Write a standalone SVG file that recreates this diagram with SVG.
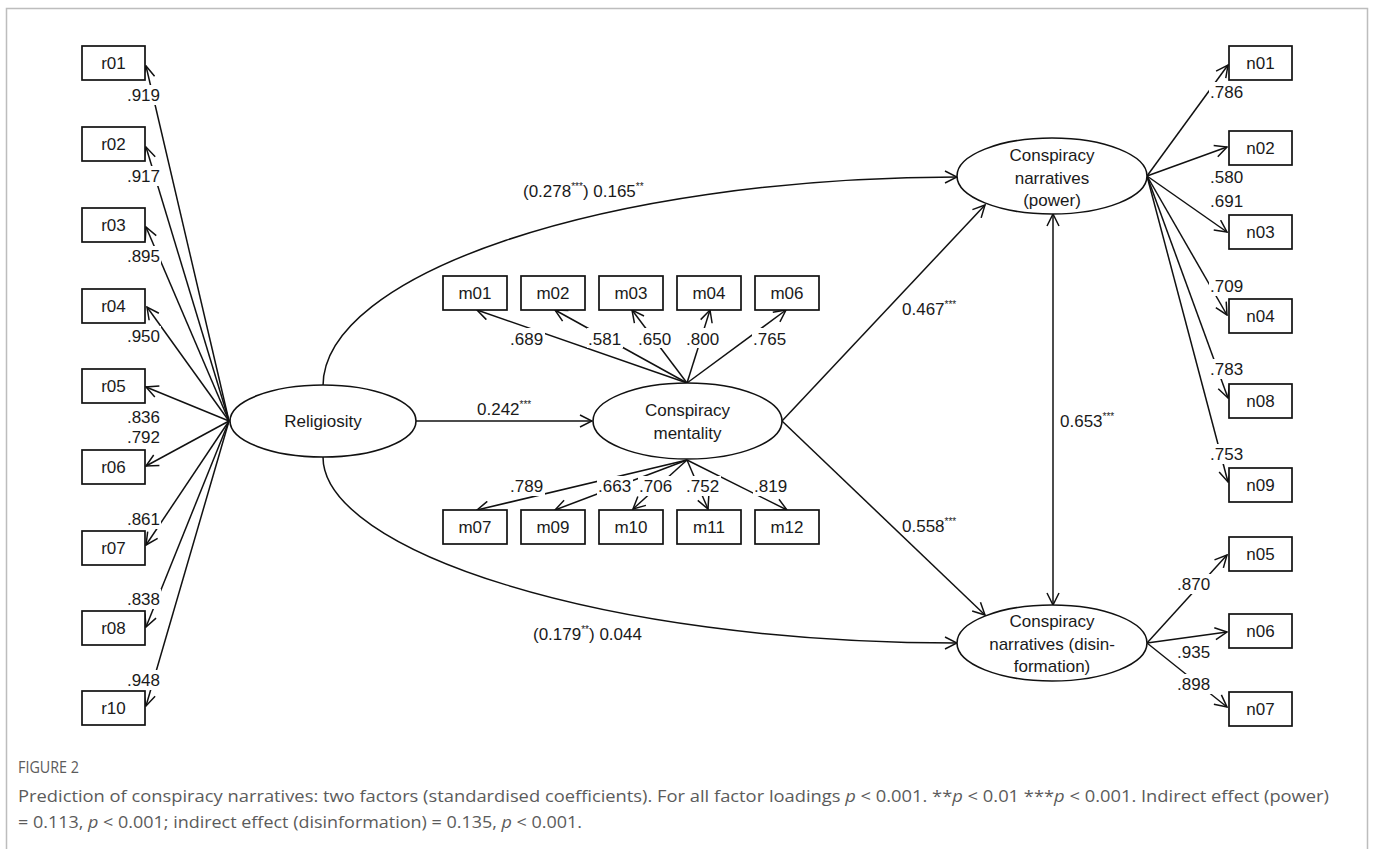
<svg xmlns="http://www.w3.org/2000/svg" width="1375" height="849" viewBox="0 0 1375 849">
<style>
text{font-family:"Liberation Sans",Arial,sans-serif;font-size:17px;fill:#1a1a1a}
.box{fill:#fff;stroke:#111;stroke-width:1.7}
.ell{fill:#fff;stroke:#111;stroke-width:1.6}
.ln{fill:none;stroke:#111;stroke-width:1.5;marker-end:url(#ah)}
.bg{fill:#fff}
.c{text-anchor:middle}
.cap{font-family:"Open Sans","Liberation Sans",sans-serif;fill:#5b5b5b}
</style>
<defs>
<marker id="ah" viewBox="-13 -7 14 14" refX="0" refY="0" markerWidth="14" markerHeight="14" markerUnits="userSpaceOnUse" orient="auto-start-reverse">
<path d="M-12,-6 L0,0 L-12,6" fill="none" stroke="#111" stroke-width="1.5"/>
</marker>
</defs>
<rect x="0" y="0" width="1375" height="849" fill="#fff"/>
<path d="M6.5,849 V8.5 H1367.5 V849" fill="none" stroke="#bdbdbd" stroke-width="1.5"/>

<g id="connectors">
<line class="ln" x1="229" y1="421" x2="146" y2="66"/>
<line class="ln" x1="229" y1="421" x2="146" y2="147"/>
<line class="ln" x1="229" y1="421" x2="146" y2="227"/>
<line class="ln" x1="229" y1="421" x2="147" y2="307"/>
<line class="ln" x1="229" y1="421" x2="146" y2="387"/>
<line class="ln" x1="229" y1="421" x2="146" y2="466"/>
<line class="ln" x1="229" y1="421" x2="146" y2="545"/>
<line class="ln" x1="229" y1="421" x2="146" y2="627"/>
<line class="ln" x1="229" y1="421" x2="146" y2="706"/>

<line class="ln" x1="687" y1="383" x2="477" y2="310"/>
<line class="ln" x1="687" y1="383" x2="555" y2="310"/>
<line class="ln" x1="687" y1="383" x2="632" y2="310"/>
<line class="ln" x1="687" y1="383" x2="710" y2="310"/>
<line class="ln" x1="687" y1="383" x2="786" y2="310"/>
<line class="ln" x1="687" y1="460" x2="477" y2="510"/>
<line class="ln" x1="687" y1="460" x2="555" y2="510"/>
<line class="ln" x1="687" y1="460" x2="633" y2="509"/>
<line class="ln" x1="687" y1="460" x2="708" y2="509"/>
<line class="ln" x1="687" y1="460" x2="787" y2="510"/>

<line class="ln" x1="1147" y1="176" x2="1228" y2="65"/>
<line class="ln" x1="1147" y1="176" x2="1227" y2="147"/>
<line class="ln" x1="1147" y1="176" x2="1227" y2="232"/>
<line class="ln" x1="1147" y1="176" x2="1227" y2="315"/>
<line class="ln" x1="1147" y1="176" x2="1228" y2="398"/>
<line class="ln" x1="1147" y1="176" x2="1228" y2="482"/>
<line class="ln" x1="1147" y1="643" x2="1227" y2="555"/>
<line class="ln" x1="1147" y1="643" x2="1227" y2="632"/>
<line class="ln" x1="1147" y1="643" x2="1227" y2="707"/>

<line class="ln" x1="416" y1="421" x2="592" y2="421"/>
<line class="ln" x1="782" y1="421" x2="985" y2="205"/>
<line class="ln" x1="782" y1="421" x2="985" y2="615"/>
<line class="ln" x1="1053" y1="214" x2="1053" y2="605" style="marker-start:url(#ah)"/>
<path class="ln" d="M323,386 C323,275 600,178 957,177"/>
<path class="ln" d="M323,457 C323,550 600,643 957,643"/>

<!-- loading labels with backgrounds -->
<g id="loadings">
<rect class="bg" x="125" y="85" width="36" height="20"/><text x="160" y="101" text-anchor="end">.919</text>
<rect class="bg" x="125" y="166" width="36" height="20"/><text x="160" y="182" text-anchor="end">.917</text>
<rect class="bg" x="125" y="246" width="36" height="20"/><text x="160" y="262" text-anchor="end">.895</text>
<rect class="bg" x="125" y="326" width="36" height="20"/><text x="160" y="342" text-anchor="end">.950</text>
<rect class="bg" x="125" y="407" width="36" height="20"/><text x="160" y="423" text-anchor="end">.836</text>
<rect class="bg" x="125" y="427" width="36" height="20"/><text x="160" y="443" text-anchor="end">.792</text>
<rect class="bg" x="125" y="509" width="36" height="20"/><text x="160" y="525" text-anchor="end">.861</text>
<rect class="bg" x="125" y="589" width="36" height="20"/><text x="160" y="605" text-anchor="end">.838</text>
<rect class="bg" x="125" y="670" width="36" height="20"/><text x="160" y="686" text-anchor="end">.948</text>

<rect class="bg" x="509" y="328" width="36" height="20"/><text x="510" y="345">.689</text>
<rect class="bg" x="587" y="328" width="36" height="20"/><text x="588" y="345">.581</text>
<rect class="bg" x="637" y="328" width="36" height="20"/><text x="638" y="345">.650</text>
<rect class="bg" x="685" y="328" width="36" height="20"/><text x="686" y="345">.800</text>
<rect class="bg" x="752" y="328" width="36" height="20"/><text x="753" y="345">.765</text>

<rect class="bg" x="509" y="476" width="36" height="20"/><text x="510" y="492">.789</text>
<rect class="bg" x="597" y="476" width="36" height="20"/><text x="598" y="492">.663</text>
<rect class="bg" x="638" y="476" width="36" height="20"/><text x="639" y="492">.706</text>
<rect class="bg" x="685" y="476" width="36" height="20"/><text x="686" y="492">.752</text>
<rect class="bg" x="753" y="476" width="36" height="20"/><text x="754" y="492">.819</text>

<rect class="bg" x="1209" y="82" width="36" height="20"/><text x="1210" y="98">.786</text>
<rect class="bg" x="1209" y="167" width="36" height="20"/><text x="1210" y="183">.580</text>
<rect class="bg" x="1209" y="191" width="36" height="20"/><text x="1210" y="207">.691</text>
<rect class="bg" x="1209" y="276" width="36" height="20"/><text x="1210" y="292">.709</text>
<rect class="bg" x="1209" y="359" width="36" height="20"/><text x="1210" y="375">.783</text>
<rect class="bg" x="1209" y="444" width="36" height="20"/><text x="1210" y="460">.753</text>
<rect class="bg" x="1176" y="574" width="36" height="20"/><text x="1177" y="590">.870</text>
<rect class="bg" x="1176" y="642" width="36" height="20"/><text x="1177" y="658">.935</text>
<rect class="bg" x="1176" y="674" width="36" height="20"/><text x="1177" y="690">.898</text>
</g>

<g id="paths">
<text x="477" y="415">0.242<tspan font-size="10" dy="-7">***</tspan></text>
<text x="902" y="315">0.467<tspan font-size="10" dy="-7">***</tspan></text>
<text x="902" y="532">0.558<tspan font-size="10" dy="-7">***</tspan></text>
<text x="1060" y="427">0.653<tspan font-size="10" dy="-7">***</tspan></text>
<text x="523" y="197">(0.278<tspan font-size="10" dy="-7">***</tspan><tspan dy="7">) 0.165</tspan><tspan font-size="10" dy="-7">**</tspan></text>
<text x="533" y="640">(0.179<tspan font-size="10" dy="-7">**</tspan><tspan dy="7">) 0.044</tspan></text>
</g>
</g>

<g id="religiosity"><ellipse class="ell" cx="323" cy="421" rx="93" ry="36"/><text class="c" x="323" y="427">Religiosity</text></g>
<g id="mentality"><ellipse class="ell" cx="687.5" cy="421" rx="94.5" ry="38"/><text class="c" x="687.5" y="416">Conspiracy</text><text class="c" x="687.5" y="439">mentality</text></g>
<g id="power"><ellipse class="ell" cx="1052" cy="176" rx="95" ry="38"/><text class="c" x="1052" y="161">Conspiracy</text><text class="c" x="1052" y="184">narratives</text><text class="c" x="1052" y="206">(power)</text></g>
<g id="disinformation"><ellipse class="ell" cx="1052" cy="643" rx="95" ry="38"/><text class="c" x="1052" y="627">Conspiracy</text><text class="c" x="1052" y="650">narratives (disin-</text><text class="c" x="1052" y="672">formation)</text></g>

<g id="r01"><rect class="box" x="82" y="46" width="63" height="34"/><text class="c" x="113.5" y="69">r01</text></g>
<g id="r02"><rect class="box" x="82" y="127" width="63" height="34"/><text class="c" x="113.5" y="150">r02</text></g>
<g id="r03"><rect class="box" x="82" y="208" width="63" height="34"/><text class="c" x="113.5" y="231">r03</text></g>
<g id="r04"><rect class="box" x="82" y="289" width="63" height="34"/><text class="c" x="113.5" y="312">r04</text></g>
<g id="r05"><rect class="box" x="82" y="369" width="63" height="34"/><text class="c" x="113.5" y="392">r05</text></g>
<g id="r06"><rect class="box" x="82" y="450" width="63" height="34"/><text class="c" x="113.5" y="473">r06</text></g>
<g id="r07"><rect class="box" x="82" y="531" width="63" height="34"/><text class="c" x="113.5" y="554">r07</text></g>
<g id="r08"><rect class="box" x="82" y="611" width="63" height="34"/><text class="c" x="113.5" y="634">r08</text></g>
<g id="r10"><rect class="box" x="82" y="691" width="63" height="34"/><text class="c" x="113.5" y="714">r10</text></g>

<g id="m01"><rect class="box" x="443" y="276" width="64" height="34"/><text class="c" x="475" y="299">m01</text></g>
<g id="m02"><rect class="box" x="521" y="276" width="64" height="34"/><text class="c" x="553" y="299">m02</text></g>
<g id="m03"><rect class="box" x="599" y="276" width="64" height="34"/><text class="c" x="631" y="299">m03</text></g>
<g id="m04"><rect class="box" x="677" y="276" width="64" height="34"/><text class="c" x="709" y="299">m04</text></g>
<g id="m06"><rect class="box" x="755" y="276" width="64" height="34"/><text class="c" x="787" y="299">m06</text></g>
<g id="m07"><rect class="box" x="443" y="510" width="64" height="34"/><text class="c" x="475" y="533">m07</text></g>
<g id="m09"><rect class="box" x="521" y="510" width="64" height="34"/><text class="c" x="553" y="533">m09</text></g>
<g id="m10"><rect class="box" x="599" y="510" width="64" height="34"/><text class="c" x="631" y="533">m10</text></g>
<g id="m11"><rect class="box" x="677" y="510" width="64" height="34"/><text class="c" x="709" y="533">m11</text></g>
<g id="m12"><rect class="box" x="755" y="510" width="64" height="34"/><text class="c" x="787" y="533">m12</text></g>

<g id="n01"><rect class="box" x="1229" y="46" width="63" height="34"/><text class="c" x="1260.5" y="69">n01</text></g>
<g id="n02"><rect class="box" x="1229" y="131" width="63" height="34"/><text class="c" x="1260.5" y="154">n02</text></g>
<g id="n03"><rect class="box" x="1229" y="215" width="63" height="34"/><text class="c" x="1260.5" y="238">n03</text></g>
<g id="n04"><rect class="box" x="1229" y="299" width="63" height="34"/><text class="c" x="1260.5" y="322">n04</text></g>
<g id="n08"><rect class="box" x="1229" y="384" width="63" height="34"/><text class="c" x="1260.5" y="407">n08</text></g>
<g id="n09"><rect class="box" x="1229" y="468" width="63" height="34"/><text class="c" x="1260.5" y="491">n09</text></g>
<g id="n05"><rect class="box" x="1229" y="537" width="63" height="34"/><text class="c" x="1260.5" y="560">n05</text></g>
<g id="n06"><rect class="box" x="1229" y="614" width="63" height="34"/><text class="c" x="1260.5" y="637">n06</text></g>
<g id="n07"><rect class="box" x="1229" y="692" width="63" height="34"/><text class="c" x="1260.5" y="715">n07</text></g>

<g id="caption">
<text class="cap" x="18" y="773" font-size="11" textLength="61" lengthAdjust="spacingAndGlyphs">FIGURE 2</text>
<text class="cap" x="18" y="802" font-size="15.5" textLength="1311" lengthAdjust="spacingAndGlyphs">Prediction of conspiracy narratives: two factors (standardised coefficients). For all factor loadings <tspan font-style="italic">p</tspan> &lt; 0.001. **<tspan font-style="italic">p</tspan> &lt; 0.01 ***<tspan font-style="italic">p</tspan> &lt; 0.001. Indirect effect (power)</text>
<text class="cap" x="18" y="828" font-size="15.5" textLength="564" lengthAdjust="spacingAndGlyphs">= 0.113, <tspan font-style="italic">p</tspan> &lt; 0.001; indirect effect (disinformation) = 0.135, <tspan font-style="italic">p</tspan> &lt; 0.001.</text>
</g>
</svg>
